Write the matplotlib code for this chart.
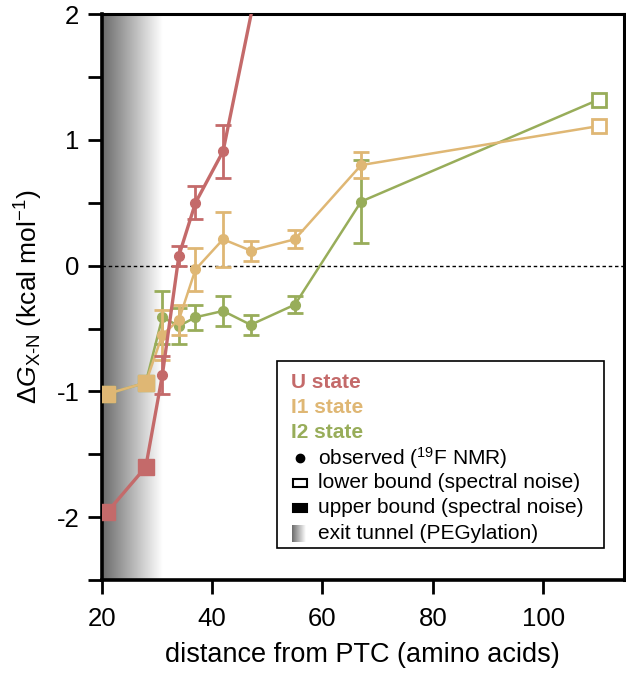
import numpy as np
import matplotlib
matplotlib.use("Agg")
import matplotlib.pyplot as plt
from matplotlib.patches import Rectangle
from matplotlib.lines import Line2D

plt.rcParams['font.family'] = ['Liberation Sans', 'DejaVu Sans']
plt.rcParams['mathtext.fontset'] = 'custom'
plt.rcParams['mathtext.rm'] = 'Liberation Sans'
plt.rcParams['mathtext.it'] = 'Liberation Sans:italic'
plt.rcParams['axes.unicode_minus'] = False

# colours of the three states
c_u = '#c46a6a'
c_i1 = '#dfb774'
c_i2 = '#98ad5a'

# U state (last point runs off the top of the plot)
u_x = [21, 28, 31, 34, 37, 42, 55]
u_y = [-1.96, -1.60, -0.87, 0.08, 0.50, 0.91, 3.7]
u_err = [np.nan, np.nan, 0.15, 0.08, 0.13, 0.21, np.nan]
u_kind = ['upper', 'upper', 'obs', 'obs', 'obs', 'obs', 'obs']

# I1 state
i1_x = [21, 28, 31, 34, 37, 42, 47, 55, 67, 110]
i1_y = [-1.02, -0.93, -0.55, -0.43, -0.03, 0.21, 0.12, 0.21, 0.80, 1.11]
i1_err = [np.nan, np.nan, 0.20, 0.12, 0.17, 0.22, 0.08, 0.07, 0.10, np.nan]
i1_kind = ['upper', 'upper', 'obs', 'obs', 'obs', 'obs', 'obs', 'obs', 'obs', 'lower']

# I2 state
i2_x = [21, 28, 31, 34, 37, 42, 47, 55, 67, 110]
i2_y = [-1.02, -0.93, -0.41, -0.48, -0.41, -0.36, -0.47, -0.31, 0.51, 1.32]
i2_err = [np.nan, np.nan, 0.21, 0.14, 0.10, 0.12, 0.08, 0.07, 0.33, np.nan]
i2_kind = ['upper', 'upper', 'obs', 'obs', 'obs', 'obs', 'obs', 'obs', 'obs', 'lower']

tunnel_end = 31  # end of the PEGylation gradient (amino acids)

legend_labels = ['U state', 'I1 state', 'I2 state']
legend_keys = ['observed ($^{\\mathrm{19}}$F NMR)', 'lower bound (spectral noise)',
               'upper bound (spectral noise)', 'exit tunnel (PEGylation)']

fig = plt.figure(figsize=(6.26, 6.73), dpi=100)
ax = fig.add_axes([0.1623, 0.138, 0.8345, 0.841])

# exit tunnel gradient
grad = np.linspace(0.42, 1.0, 256).reshape(1, -1)
ax.imshow(grad, extent=(20, tunnel_end, -2.5, 2), aspect='auto', cmap='gray',
          vmin=0, vmax=1, zorder=0)

ax.axhline(0, color='black', lw=1, ls=(0, (2.5, 2)), zorder=1)


def draw_state(x, y, err, kind, col, lw, z):
    x = np.array(x, float)
    y = np.array(y, float)
    err = np.array(err, float)
    kind = np.array(kind)
    ax.plot(x, y, color=col, lw=lw, zorder=z)
    m = kind == 'obs'
    ax.errorbar(x[m], y[m], yerr=err[m], fmt='o', color=col, ms=7, elinewidth=2,
                capsize=6, capthick=2, zorder=z)
    m = kind == 'upper'
    ax.plot(x[m], y[m], 's', color=col, ms=11, zorder=z)
    m = kind == 'lower'
    ax.plot(x[m], y[m], 's', mfc='white', mec=col, mew=2, ms=10, zorder=z)


draw_state(i2_x, i2_y, i2_err, i2_kind, c_i2, 1.8, 3)
draw_state(i1_x, i1_y, i1_err, i1_kind, c_i1, 1.8, 4)
draw_state(u_x, u_y, u_err, u_kind, c_u, 2.4, 5)

ax.set_xlim(20, 114.6)
ax.set_ylim(-2.5, 2)
ax.set_xticks([20, 40, 60, 80, 100])
ax.set_yticks([-2, -1, 0, 1, 2])
ax.set_yticks([-2.5, -1.5, -0.5, 0.5, 1.5], minor=True)
ax.tick_params(which='both', direction='out', length=10, width=2, labelsize=18.5, pad=6)
ax.tick_params(axis='x', pad=9)
for s in ['left', 'bottom']:
    ax.spines[s].set_linewidth(2.6)
for s in ['top', 'right']:
    ax.spines[s].set_linewidth(2.2)

ax.set_xlabel('distance from PTC (amino acids)', fontsize=19.5, labelpad=8)
ax.set_ylabel(r'$\Delta\mathit{G}_{\mathrm{X\text{-}N}}$ (kcal mol$^{\mathrm{-1}}$)',
              fontsize=19, labelpad=8)

# hand-built legend box
ax.add_patch(Rectangle((0.336, 0.0565), 0.626, 0.3305, transform=ax.transAxes,
                       fill=False, lw=1.2, ec='black', zorder=10))
row0 = 0.350
step = 0.0445
for i, (lab, col) in enumerate(zip(legend_labels, [c_u, c_i1, c_i2])):
    ax.text(0.362, row0 - i * step, lab, color=col, fontsize=15, fontweight='bold',
            va='center', ha='left', transform=ax.transAxes, zorder=11)
sym_x = 0.380
txt_x = 0.414
sym_w = 0.026
sym_h = 0.014
for j, lab in enumerate(legend_keys):
    yy = row0 - (j + 3) * step
    ax.text(txt_x, yy, lab, fontsize=15, va='center', ha='left',
            transform=ax.transAxes, zorder=11)
    if j == 0:
        ax.add_line(Line2D([sym_x], [yy], marker='o', color='black', ms=6,
                           transform=ax.transAxes, zorder=11))
    elif j == 1:
        ax.add_patch(Rectangle((sym_x - sym_w / 2, yy - sym_h / 2), sym_w, sym_h,
                               fc='white', ec='black', lw=1.5,
                               transform=ax.transAxes, zorder=11))
    elif j == 2:
        ax.add_patch(Rectangle((sym_x - sym_w / 2, yy - sym_h / 2), sym_w, sym_h,
                               fc='black', ec='black', lw=1.5,
                               transform=ax.transAxes, zorder=11))
    else:
        ax.imshow(grad, extent=(sym_x - 0.016, sym_x + 0.009, yy - 0.015, yy + 0.015),
                  transform=ax.transAxes, aspect='auto', cmap='gray', vmin=0, vmax=1,
                  zorder=11)

ax.set_xlim(20, 114.6)
ax.set_ylim(-2.5, 2)

fig.savefig('out.png', dpi=100)
